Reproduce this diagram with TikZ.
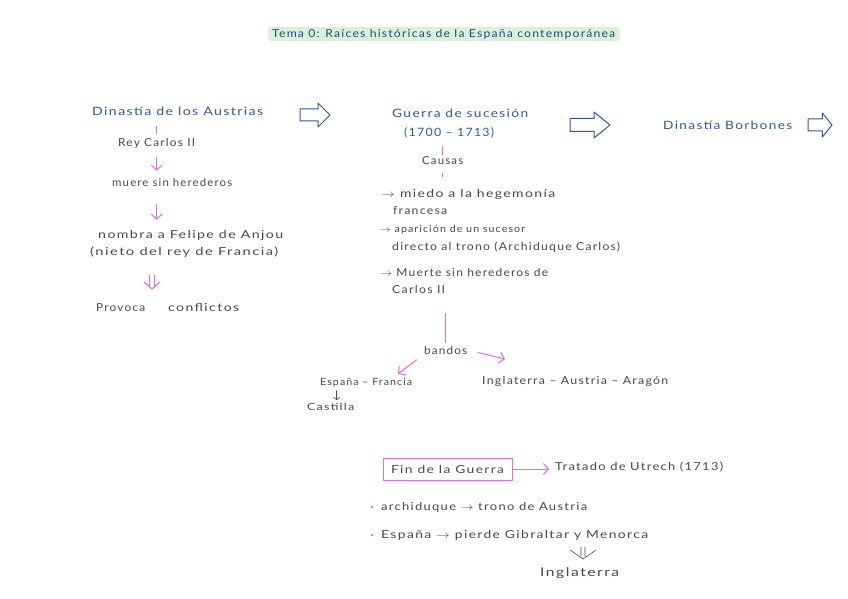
\documentclass[tikz,border=0pt]{standalone}
\usepackage{fontspec}
\usepackage{graphicx}
\setmainfont{Lato}[LetterSpace=10]
\usetikzlibrary{arrows.meta}
\definecolor{inkblue}{RGB}{52,88,150}
\definecolor{inkgray}{RGB}{72,72,78}
\definecolor{inkpink}{RGB}{222,112,208}
\definecolor{hl}{RGB}{216,241,216}
\newsavebox\fitbox
\newcommand\fitw[2]{\sbox\fitbox{#2}\edef\fitwd{\the\wd\fitbox}%
  \pgfmathsetmacro\fitsx{#1/\fitwd}\scalebox{\fitsx}[1]{\usebox\fitbox}}
\newcommand\blkarrow[4]{%
  \draw[blk] (#1,#2-#4*0.25) -- (#1+#3*0.6,#2-#4*0.25) -- (#1+#3*0.6,#2-#4*0.5)
    -- (#1+#3,#2) -- (#1+#3*0.6,#2+#4*0.5) -- (#1+#3*0.6,#2+#4*0.25)
    -- (#1,#2+#4*0.25) -- cycle;}
\begin{document}
\begin{tikzpicture}[x=1pt,y=-1pt,
  txt/.style={anchor=west,inner sep=0pt,text=inkgray,font=\fontsize{11}{13}\selectfont},
  small/.style={txt,font=\fontsize{10}{12}\selectfont},
  head/.style={txt,text=inkblue,font=\fontsize{11.5}{13}\selectfont},
  pk/.style={draw=inkpink,line width=1pt,line cap=round,line join=round},
  pka/.style={pk,-{Straight Barb[length=5pt,width=11pt,line width=1pt]}},
  gr/.style={draw=inkgray,line width=0.6pt,line cap=round,line join=round},
  gra/.style={gr,-{Straight Barb[length=2.5pt,width=6pt,line width=0.6pt]}},
  blk/.style={draw=inkblue,line width=1pt,line join=round},
  dblarrow/.pic={\draw[pic actions] (-2.5,-7) -- (-2.5,5) (2.5,-7) -- (2.5,5) (-8,0) -- (0,7) -- (8,0);},
  wdblarrow/.pic={\draw[pic actions] (-2,-7) -- (-2,2) (2,-7) -- (2,2) (-13,-4) -- (0,5) -- (13,-4);}
]
\useasboundingbox (0,0) rectangle (848,599);
\fill[white] (0,0) rectangle (848,599);

% title
\fill[hl,rounded corners=3pt] (268,27) rectangle (620,41);
\node[txt,text=inkblue!80!black] (title) at (272,34) {\fitw{343}{Tema 0: Raíces históricas de la España contemporánea}};

% left column
\node[head] (austrias) at (92,111) {\fitw{171}{Dinastía de los Austrias}};
\node[txt] (rey) at (118,143) {\fitw{77}{Rey Carlos II}};
\node[txt] (muere) at (112,182) {\fitw{120}{muere sin herederos}};
\node[txt] (nombra) at (98,235) {\fitw{185}{nombra a Felipe de Anjou}};
\node[txt] (nieto) at (90,252) {\fitw{188}{(nieto del rey de Francia)}};
\node[txt] (provoca) at (96,308) {\fitw{49}{Provoca}\hspace{23pt}\fitw{71}{conflictos}};

\draw[pk,shorten <=11pt,shorten >=4pt] (austrias.south -| rey.north) -- (rey.north);
\draw[pka,shorten <=9pt,shorten >=7pt] (rey.south) -- (rey.south |- muere.north);
\draw[pka,shorten <=18pt,shorten >=10pt] (muere.south -| rey.south) -- (rey.south |- nombra.north);
\pic[pk] at (152,282) {dblarrow};

% middle column
\node[head] (guerra) at (392,113) {\fitw{136}{Guerra de sucesión}};
\node[head] (fechas) at (404,133) {\fitw{90}{(1700 – 1713)}};
\node[txt] (causas) at (422,161) {\fitw{41}{Causas}};
\node[txt] (c1) at (381,194) {\fitw{174}{$\rightarrow$ miedo a la hegemonía}};
\node[txt] (c1b) at (393,211) {\fitw{54}{francesa}};
\node[small] (c2) at (380,230) {\fitw{145}{$\rightarrow$ aparición de un sucesor}};
\node[txt] (c2b) at (392,247) {\fitw{228}{directo al trono (Archiduque Carlos)}};
\node[txt] (c3) at (380,272) {\fitw{168}{$\rightarrow$ Muerte sin herederos de}};
\node[txt] (c3b) at (392,289) {\fitw{53}{Carlos II}};

\draw[pk,shorten <=8pt,shorten >=2pt] (fechas.south -| causas.north) -- (causas.north);
\draw[pk,shorten <=8pt,shorten >=12pt] (causas.south) -- (causas.south |- c1.north);

\node[txt] (bandos) at (424,350) {\fitw{43}{bandos}};
\draw[pk,shorten <=20pt,shorten >=3pt] (c3b.south -| bandos.north) -- (bandos.north);
\coordinate (bR) at (505,359);
\coordinate (bL) at (398,374);
\draw[pka,shorten <=11pt] (bandos.east) -- (bR);
\draw[pka,shorten <=9pt] (bandos.south west) -- (bL);

\node[small] (espfr) at (320,383) {\fitw{92}{España – Francia}};
\node[small] (castilla) at (307,407) {\fitw{47}{Castilla}};
\node[txt] (ingl) at (482,381) {\fitw{186}{Inglaterra – Austria – Aragón}};
\draw[gra,shorten <=3pt,shorten >=3pt] ([xshift=6pt]castilla.north |- espfr.south) -- ([xshift=6pt]castilla.north);

% right
\node[head] (borbones) at (663,125) {\fitw{129}{Dinastía Borbones}};
\blkarrow{300}{115}{30}{24}
\blkarrow{570}{125}{40}{26}
\blkarrow{808}{125}{24}{24}

% bottom
\node[draw=inkpink,line width=0.8pt,inner sep=0pt,minimum width=129pt,minimum height=22pt,
      text=inkgray,font=\fontsize{11}{13}\selectfont] (fin) at (447.5,469) {\fitw{113}{Fin de la Guerra}};
\node[txt] (tratado) at (555,467) {\fitw{168}{Tratado de Utrech (1713)}};
\draw[pka,shorten >=6pt] (fin.east) -- (tratado.west |- fin.east);

\node[txt] (b1) at (381,507) {\fitw{206}{archiduque $\rightarrow$ trono de Austria}};
\node[txt] (b2) at (381,535) {\fitw{267}{España $\rightarrow$ pierde Gibraltar y Menorca}};
\fill[inkpink] ([xshift=-9pt]b1.west) circle (1.4);
\fill[inkpink] ([xshift=-9pt]b2.west) circle (1.4);
\node[txt,font=\fontsize{12}{14}\selectfont] (ingl2) at (540,573) {\fitw{79}{Inglaterra}};
\pic[gr] at (583,554) {wdblarrow};
\end{tikzpicture}
\end{document}
